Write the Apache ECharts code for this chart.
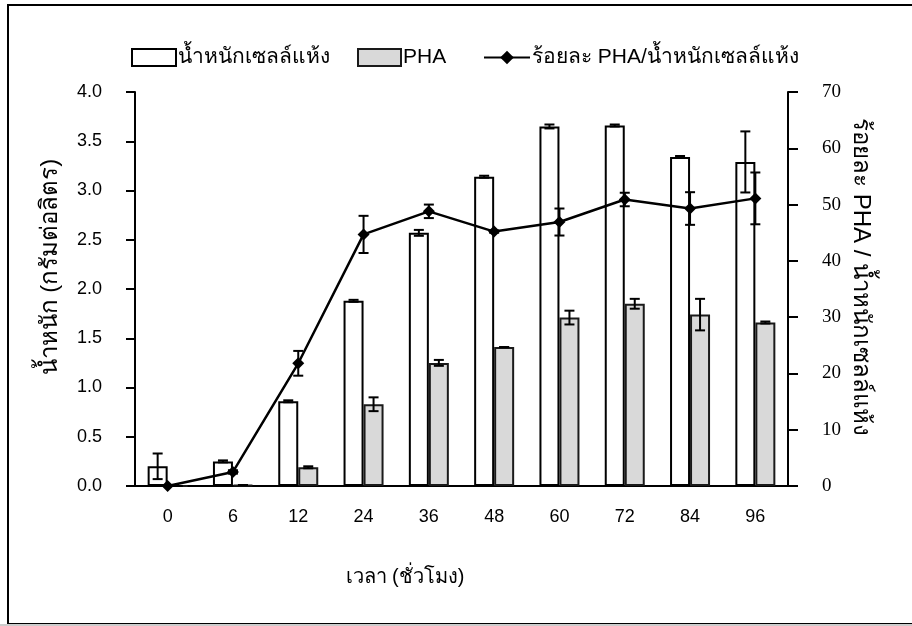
<!DOCTYPE html>
<html>
<head>
<meta charset="utf-8">
<script src="https://cdn.jsdelivr.net/npm/echarts@6/dist/echarts.min.js"></script>
<style>
html,body{margin:0;padding:0;background:#fff;}
#c{width:912px;height:626px;}
</style>
</head>
<body>
<div id="c"></div>
<script>
// ---- data ----
const categories = ['0','6','12','24','36','48','60','72','84','96'];
const dryWeight = [0.20, 0.25, 0.86, 1.88, 2.57, 3.14, 3.65, 3.66, 3.34, 3.29];
const dryWeightErr = [0.13, 0.01, 0.01, 0.01, 0.03, 0.01, 0.02, 0.01, 0.01, 0.31];
const pha = [0.00, 0.01, 0.19, 0.83, 1.25, 1.41, 1.71, 1.85, 1.74, 1.66];
const phaErr = [0.00, 0.00, 0.01, 0.07, 0.03, 0.00, 0.07, 0.05, 0.16, 0.01];
const phaPercent = [0.0, 2.5, 21.8, 44.7, 48.8, 45.2, 46.9, 50.9, 49.3, 51.1];
const phaPercentErr = [0.0, 0.3, 2.2, 3.3, 1.2, 0.2, 2.4, 1.2, 2.9, 4.6];
const leftTicks = {min: 0, max: 4, interval: 0.5};
const rightTicks = {min: 0, max: 70, interval: 10};
const names = ['น้ำหนักเซลล์แห้ง', 'PHA', 'ร้อยละ PHA/น้ำหนักเซลล์แห้ง'];

const thaiFont = "'Liberation Sans', Arial, 'Noto Sans', sans-serif";

function errData(vals, errs) {
  return vals.map((v, i) => [i, v - errs[i], v + errs[i]]);
}
function errRender(offset) {
  return function (params, api) {
    const lo = api.coord([api.value(0), api.value(1)]);
    const hi = api.coord([api.value(0), api.value(2)]);
    const x = lo[0] + offset;
    const cap = 5;
    const style = {stroke: '#000', lineWidth: 2};
    return {
      type: 'group',
      children: [
        {type: 'line', shape: {x1: x, y1: lo[1], x2: x, y2: hi[1]}, style},
        {type: 'line', shape: {x1: x - cap, y1: lo[1], x2: x + cap, y2: lo[1]}, style},
        {type: 'line', shape: {x1: x - cap, y1: hi[1], x2: x + cap, y2: hi[1]}, style}
      ]
    };
  };
}

const legendText = {fontFamily: thaiFont, fontSize: 21, color: '#000', padding: [0, 0, 0, -3]};

const chart = echarts.init(document.getElementById('c'), null, {renderer: 'canvas'});
chart.setOption({
  animation: false,
  backgroundColor: '#fff',
  grid: {left: 135, right: 124, top: 92, bottom: 140, containLabel: false},
  legend: [
    {data: [{name: names[0], icon: 'rect'}], left: 126, top: 42, itemWidth: 44, itemHeight: 17,
      textStyle: legendText, selectedMode: false},
    {data: [{name: names[1], icon: 'rect'}], left: 352, top: 42, itemWidth: 43, itemHeight: 17,
      textStyle: legendText, selectedMode: false},
    {data: [names[2]], left: 478, top: 42, itemWidth: 46, itemHeight: 17,
      textStyle: legendText, selectedMode: false}
  ],
  xAxis: {
    type: 'category',
    data: categories,
    axisLine: {lineStyle: {color: '#000', width: 2}},
    axisTick: {show: false},
    axisLabel: {margin: 22, fontSize: 18, color: '#000', fontFamily: "'Liberation Sans', Arial, sans-serif"}
  },
  yAxis: [
    {
      type: 'value', min: leftTicks.min, max: leftTicks.max, interval: leftTicks.interval,
      axisLine: {show: true, lineStyle: {color: '#000', width: 2}},
      axisTick: {show: true, inside: false, length: 9, lineStyle: {color: '#000', width: 2}},
      axisLabel: {margin: 33, fontSize: 18, color: '#000', fontFamily: "'Liberation Sans', Arial, sans-serif",
        formatter: v => v.toFixed(1)},
      splitLine: {show: false}
    },
    {
      type: 'value', position: 'right', min: rightTicks.min, max: rightTicks.max, interval: rightTicks.interval,
      axisLine: {show: true, lineStyle: {color: '#000', width: 2}},
      axisTick: {show: true, inside: false, length: 10, lineStyle: {color: '#000', width: 2}},
      axisLabel: {margin: 34, fontSize: 19, color: '#000', fontFamily: "'Liberation Serif', 'Times New Roman', serif"},
      splitLine: {show: false}
    }
  ],
  series: [
    {
      name: names[0], type: 'bar', data: dryWeight, barWidth: 20, barGap: '0%',
      itemStyle: {color: '#fff', borderColor: '#000', borderWidth: 2}, z: 2
    },
    {
      name: names[1], type: 'bar', data: pha, barWidth: 20, barGap: '0%',
      itemStyle: {color: '#d9d9d9', borderColor: '#1a1a1a', borderWidth: 2}, z: 2
    },
    {
      type: 'custom', data: errData(dryWeight, dryWeightErr), renderItem: errRender(-10),
      encode: {x: 0, y: [1, 2]}, z: 3, silent: true
    },
    {
      type: 'custom', data: errData(pha, phaErr), renderItem: errRender(10),
      encode: {x: 0, y: [1, 2]}, z: 3, silent: true
    },
    {
      name: names[2], type: 'line', yAxisIndex: 1, data: phaPercent,
      symbol: 'diamond', symbolSize: 12,
      itemStyle: {color: '#000'}, lineStyle: {color: '#000', width: 2.5}, z: 5
    },
    {
      type: 'custom', yAxisIndex: 1, data: errData(phaPercent, phaPercentErr), renderItem: errRender(0),
      encode: {x: 0, y: [1, 2]}, z: 4, silent: true
    }
  ],
  graphic: [
    {type: 'rect', shape: {x: 8, y: 5, width: 960, height: 619}, style: {fill: 'none', stroke: '#000', lineWidth: 2}, z: -1, silent: true},
    {type: 'line', shape: {x1: 0, y1: 625, x2: 912, y2: 625}, style: {stroke: '#ccc', lineWidth: 2}, silent: true},
    {type: 'text', x: 50, y: 267, rotation: Math.PI / 2,
      style: {text: 'น้ำหนัก (กรัมต่อลิตร)', font: "24px " + thaiFont, fill: '#000', align: 'center', verticalAlign: 'middle'}},
    {type: 'text', x: 861, y: 277, rotation: -Math.PI / 2,
      style: {text: 'ร้อยละ PHA / น้ำหนักเซลล์แห้ง', font: "24px " + thaiFont, fill: '#000', align: 'center', verticalAlign: 'middle'}},
    {type: 'text', x: 405, y: 577,
      style: {text: 'เวลา (ชั่วโมง)', font: "20px " + thaiFont, fill: '#000', align: 'center', verticalAlign: 'middle'}}
  ]
});
</script>
</body>
</html>
